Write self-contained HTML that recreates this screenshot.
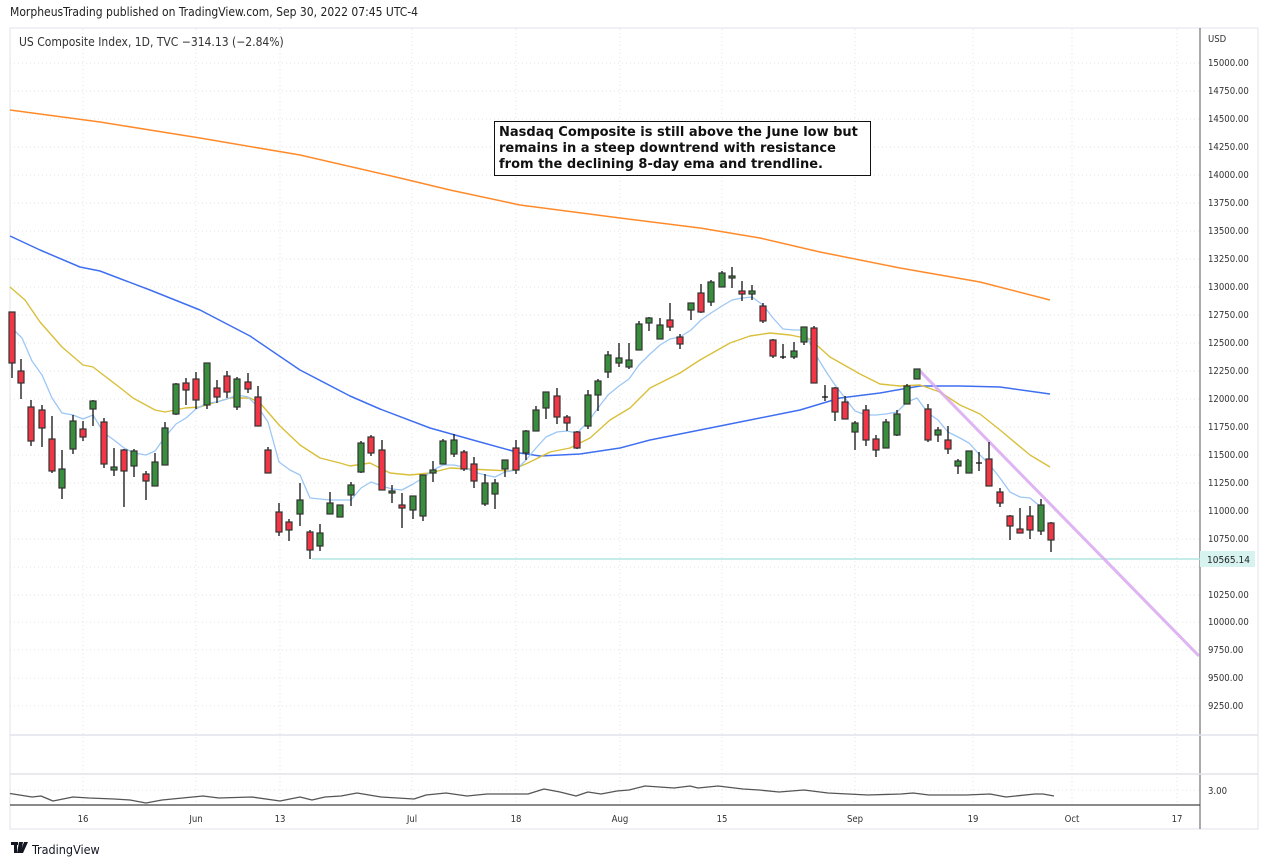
<!DOCTYPE html>
<html><head><meta charset="utf-8"><style>
html,body{margin:0;padding:0;background:#fff;}
body{width:1269px;height:866px;overflow:hidden;font-family:"Liberation Sans","DejaVu Sans",sans-serif;}
svg{display:block}
.r{fill:#f23645;stroke:#333;stroke-width:1.2}
.g{fill:#388e3c;stroke:#333;stroke-width:1.2}
.w line{stroke:#111;stroke-width:1.3}
.pl{font-size:9.5px;fill:#333;font-family:"DejaVu Sans Condensed","DejaVu Sans",sans-serif}
.xl{font-size:9.5px;fill:#333;font-family:"DejaVu Sans Condensed","DejaVu Sans",sans-serif;text-anchor:middle}
</style></head><body>
<svg width="1269" height="866" viewBox="0 0 1269 866" xmlns="http://www.w3.org/2000/svg">
<text x="10" y="16" style="font-size:12px;fill:#222;font-family:'DejaVu Sans Condensed','DejaVu Sans',sans-serif">MorpheusTrading published on TradingView.com, Sep 30, 2022 07:45 UTC-4</text>
<rect x="10" y="28" width="1248" height="801" fill="#fff" stroke="#e0e3eb"/>
<g stroke="#e3e3e3" stroke-dasharray="1,3">
<line x1="83" y1="29" x2="83" y2="805"/><line x1="196" y1="29" x2="196" y2="805"/><line x1="280" y1="29" x2="280" y2="805"/><line x1="412" y1="29" x2="412" y2="805"/><line x1="516" y1="29" x2="516" y2="805"/><line x1="620" y1="29" x2="620" y2="805"/><line x1="722" y1="29" x2="722" y2="805"/><line x1="855" y1="29" x2="855" y2="805"/><line x1="973" y1="29" x2="973" y2="805"/><line x1="1072" y1="29" x2="1072" y2="805"/><line x1="1177" y1="29" x2="1177" y2="805"/>
<line x1="10" y1="63" x2="1200" y2="63"/><line x1="10" y1="91" x2="1200" y2="91"/><line x1="10" y1="119" x2="1200" y2="119"/><line x1="10" y1="147" x2="1200" y2="147"/><line x1="10" y1="175" x2="1200" y2="175"/><line x1="10" y1="203" x2="1200" y2="203"/><line x1="10" y1="231" x2="1200" y2="231"/><line x1="10" y1="259" x2="1200" y2="259"/><line x1="10" y1="287" x2="1200" y2="287"/><line x1="10" y1="315" x2="1200" y2="315"/><line x1="10" y1="343" x2="1200" y2="343"/><line x1="10" y1="371" x2="1200" y2="371"/><line x1="10" y1="399" x2="1200" y2="399"/><line x1="10" y1="427" x2="1200" y2="427"/><line x1="10" y1="455" x2="1200" y2="455"/><line x1="10" y1="483" x2="1200" y2="483"/><line x1="10" y1="511" x2="1200" y2="511"/><line x1="10" y1="539" x2="1200" y2="539"/><line x1="10" y1="567" x2="1200" y2="567"/><line x1="10" y1="595" x2="1200" y2="595"/><line x1="10" y1="622" x2="1200" y2="622"/><line x1="10" y1="650" x2="1200" y2="650"/><line x1="10" y1="678" x2="1200" y2="678"/><line x1="10" y1="706" x2="1200" y2="706"/>
<line x1="10" y1="790" x2="1200" y2="790"/>
</g>
<line x1="1200" y1="28" x2="1200" y2="829" stroke="#555" stroke-width="1"/>
<line x1="10" y1="735" x2="1258" y2="735" stroke="#e0e3eb" stroke-width="1.5"/>
<line x1="10" y1="774" x2="1258" y2="774" stroke="#e0e3eb" stroke-width="1.5"/>
<line x1="10" y1="805" x2="1200" y2="805" stroke="#444" stroke-width="1.2"/>
<text x="19" y="46" style="font-size:12px;fill:#333;font-family:'DejaVu Sans Condensed','DejaVu Sans',sans-serif">US Composite Index, 1D, TVC  −314.13 (−2.84%)</text>
<g>
<text class="pl" x="1208" y="42">USD</text>
<text class="pl" x="1208" y="66">15000.00</text><text class="pl" x="1208" y="94">14750.00</text><text class="pl" x="1208" y="122">14500.00</text><text class="pl" x="1208" y="150">14250.00</text><text class="pl" x="1208" y="178">14000.00</text><text class="pl" x="1208" y="206">13750.00</text><text class="pl" x="1208" y="234">13500.00</text><text class="pl" x="1208" y="262">13250.00</text><text class="pl" x="1208" y="290">13000.00</text><text class="pl" x="1208" y="318">12750.00</text><text class="pl" x="1208" y="346">12500.00</text><text class="pl" x="1208" y="374">12250.00</text><text class="pl" x="1208" y="402">12000.00</text><text class="pl" x="1208" y="430">11750.00</text><text class="pl" x="1208" y="458">11500.00</text><text class="pl" x="1208" y="486">11250.00</text><text class="pl" x="1208" y="514">11000.00</text><text class="pl" x="1208" y="542">10750.00</text><text class="pl" x="1208" y="598">10250.00</text><text class="pl" x="1208" y="625">10000.00</text><text class="pl" x="1208" y="653">9750.00</text><text class="pl" x="1208" y="681">9500.00</text><text class="pl" x="1208" y="709">9250.00</text>
<text class="pl" x="1208" y="794">3.00</text>
</g>
<g>
<text class="xl" x="83" y="822">16</text><text class="xl" x="196" y="822">Jun</text><text class="xl" x="280" y="822">13</text><text class="xl" x="412" y="822">Jul</text><text class="xl" x="516" y="822">18</text><text class="xl" x="620" y="822">Aug</text><text class="xl" x="722" y="822">15</text><text class="xl" x="855" y="822">Sep</text><text class="xl" x="973" y="822">19</text><text class="xl" x="1072" y="822">Oct</text><text class="xl" x="1177" y="822">17</text>
</g>
<line x1="312" y1="559" x2="1200" y2="559" stroke="#b2e5e0" stroke-width="1.5"/>
<rect x="1200" y="551" width="55" height="16" fill="#d6f3f0"/>
<text x="1207" y="563" style="font-size:10px;fill:#222;font-family:'DejaVu Sans Condensed','DejaVu Sans',sans-serif">10565.14</text>
<g fill="none" stroke-linejoin="round">
<polyline stroke="#ff8a2a" stroke-width="1.5" points="10,110 100,122 200,138 300,155 400,178 450,190 520,205 620,218 700,228 760,238 820,252 900,268 980,282 1050,300"/>
<polyline stroke="#3f6ff0" stroke-width="1.5" points="10,236 40,250 80,267 100,271 150,290 200,310 250,336 300,370 350,396 380,409 430,428 480,442 520,453 540,456 580,454 620,448 650,440 700,430 750,420 800,410 840,398 880,393 920,386 960,386 1000,387 1050,394"/>
<polyline stroke="#d9bf3a" stroke-width="1.4" points="10,287 25,300 40,322 62,347 83,365 93,367 123,390 133,398 155,410 165,412 185,408 200,407 230,398 250,398 260,403 280,426 300,445 320,458 340,463 350,466 370,463 390,473 410,475 430,473 450,468 470,469 490,470 510,471 530,462 550,452 570,448 590,438 610,420 630,408 650,388 680,373 700,360 730,343 750,336 770,333 790,335 810,339 830,357 860,374 880,384 900,386 920,385 940,392 960,405 980,414 1000,430 1030,455 1050,467"/>
<polyline stroke="#9cc7f5" stroke-width="1.3" points="12,328 22,338 32,361 42,375 52,398 62,413 73,415 83,419 93,415 104,433 114,440 124,448 134,453 146,455 155,451 165,437 176,424 186,418 196,409 207,403 217,402 227,399 237,395 248,397 258,407 268,422 279,462 290,470 300,475 310,498 320,499 330,500 340,500 351,500 361,488 371,482 382,486 392,489 402,490 413,484 423,478 433,470 443,465 454,465 464,467 474,472 485,475 495,477 505,472 516,470 526,460 536,448 546,437 557,432 567,431 577,433 588,422 598,408 608,395 619,386 629,379 639,365 649,355 660,345 670,339 680,337 691,330 701,320 711,313 722,306 732,300 742,298 752,297 763,305 773,318 783,329 794,330 804,330 814,352 825,370 835,385 845,398 855,411 866,415 876,415 886,414 897,412 907,402 917,398 928,413 938,420 948,432 958,437 969,443 979,454 989,464 1000,478 1010,492 1020,497 1030,498 1041,507"/>
<line x1="918" y1="369" x2="1199" y2="656" stroke="#d8a8f0" stroke-width="3" stroke-opacity="0.85"/>
<polyline stroke="#555" stroke-width="1.3" points="10,793.5 32,797 41,796 53,801 73,797 89,798 114,799 130,800 146,803 162,800 203,796 219,798 252,797 280,801 300,797 312,800 325,797 341,796 357,793 381,797 414,799 426,795 446,793 467,796 487,794 528,794 544,789 560,792 576,796 588,792 601,794 617,791 629,790 645,786 674,788 690,786 698,788 718,786 743,789 759,790 779,792 804,790 828,793 868,795 901,794 913,793 929,795 966,795 990,794 1006,797 1035,794 1043,794 1054,796"/>
</g>
<g class="w">
<line x1="12" y1="312" x2="12" y2="378"/><line x1="21" y1="359" x2="21" y2="399"/><line x1="31" y1="400" x2="31" y2="446"/><line x1="42" y1="405" x2="42" y2="447"/><line x1="52" y1="416" x2="52" y2="473"/><line x1="62" y1="450" x2="62" y2="499"/><line x1="73" y1="415" x2="73" y2="454"/><line x1="83" y1="421" x2="83" y2="441"/><line x1="93" y1="400" x2="93" y2="426"/><line x1="104" y1="418" x2="104" y2="468"/><line x1="114" y1="448" x2="114" y2="476"/><line x1="124" y1="449" x2="124" y2="507"/><line x1="134" y1="449" x2="134" y2="477"/><line x1="146" y1="471" x2="146" y2="500"/><line x1="155" y1="453" x2="155" y2="486"/><line x1="165" y1="422" x2="165" y2="465"/><line x1="176" y1="383" x2="176" y2="415"/><line x1="186" y1="378" x2="186" y2="405"/><line x1="196" y1="372" x2="196" y2="409"/><line x1="207" y1="363" x2="207" y2="409"/><line x1="217" y1="380" x2="217" y2="403"/><line x1="227" y1="371" x2="227" y2="398"/><line x1="237" y1="377" x2="237" y2="410"/><line x1="248" y1="373" x2="248" y2="393"/><line x1="258" y1="386" x2="258" y2="426"/><line x1="268" y1="447" x2="268" y2="473"/><line x1="279" y1="503" x2="279" y2="536"/><line x1="289" y1="519" x2="289" y2="541"/><line x1="300" y1="483" x2="300" y2="526"/><line x1="310" y1="530" x2="310" y2="559"/><line x1="320" y1="524" x2="320" y2="551"/><line x1="330" y1="492" x2="330" y2="514"/><line x1="340" y1="505" x2="340" y2="517"/><line x1="351" y1="482" x2="351" y2="506"/><line x1="361" y1="441" x2="361" y2="473"/><line x1="371" y1="435" x2="371" y2="456"/><line x1="382" y1="440" x2="382" y2="490"/><line x1="392" y1="485" x2="392" y2="503"/><line x1="402" y1="493" x2="402" y2="528"/><line x1="413" y1="496" x2="413" y2="519"/><line x1="423" y1="475" x2="423" y2="521"/><line x1="433" y1="461" x2="433" y2="482"/><line x1="443" y1="439" x2="443" y2="464"/><line x1="454" y1="434" x2="454" y2="457"/><line x1="464" y1="450" x2="464" y2="471"/><line x1="474" y1="457" x2="474" y2="488"/><line x1="485" y1="474" x2="485" y2="506"/><line x1="495" y1="479" x2="495" y2="509"/><line x1="505" y1="460" x2="505" y2="477"/><line x1="516" y1="440" x2="516" y2="474"/><line x1="526" y1="430" x2="526" y2="460"/><line x1="536" y1="406" x2="536" y2="431"/><line x1="546" y1="392" x2="546" y2="419"/><line x1="557" y1="388" x2="557" y2="424"/><line x1="567" y1="415" x2="567" y2="431"/><line x1="577" y1="431" x2="577" y2="449"/><line x1="588" y1="390" x2="588" y2="429"/><line x1="598" y1="379" x2="598" y2="411"/><line x1="608" y1="351" x2="608" y2="378"/><line x1="619" y1="343" x2="619" y2="367"/><line x1="629" y1="343" x2="629" y2="369"/><line x1="639" y1="321" x2="639" y2="350"/><line x1="649" y1="317" x2="649" y2="331"/><line x1="660" y1="318" x2="660" y2="339"/><line x1="670" y1="303" x2="670" y2="331"/><line x1="680" y1="334" x2="680" y2="349"/><line x1="691" y1="303" x2="691" y2="320"/><line x1="701" y1="284" x2="701" y2="313"/><line x1="711" y1="280" x2="711" y2="306"/><line x1="722" y1="271" x2="722" y2="287"/><line x1="732" y1="267" x2="732" y2="288"/><line x1="742" y1="281" x2="742" y2="301"/><line x1="752" y1="285" x2="752" y2="300"/><line x1="763" y1="303" x2="763" y2="323"/><line x1="773" y1="339" x2="773" y2="358"/><line x1="783" y1="344" x2="783" y2="359"/><line x1="794" y1="342" x2="794" y2="359"/><line x1="804" y1="327" x2="804" y2="345"/><line x1="814" y1="326" x2="814" y2="383"/><line x1="825" y1="385" x2="825" y2="401"/><line x1="835" y1="387" x2="835" y2="421"/><line x1="845" y1="396" x2="845" y2="419"/><line x1="855" y1="421" x2="855" y2="450"/><line x1="866" y1="405" x2="866" y2="446"/><line x1="876" y1="435" x2="876" y2="457"/><line x1="886" y1="419" x2="886" y2="448"/><line x1="897" y1="410" x2="897" y2="436"/><line x1="907" y1="384" x2="907" y2="404"/><line x1="928" y1="404" x2="928" y2="442"/><line x1="938" y1="427" x2="938" y2="442"/><line x1="948" y1="426" x2="948" y2="454"/><line x1="958" y1="459" x2="958" y2="474"/><line x1="969" y1="451" x2="969" y2="473"/><line x1="979" y1="452" x2="979" y2="471"/><line x1="989" y1="442" x2="989" y2="486"/><line x1="1000" y1="488" x2="1000" y2="507"/><line x1="1010" y1="515" x2="1010" y2="540"/><line x1="1020" y1="508" x2="1020" y2="533"/><line x1="1030" y1="506" x2="1030" y2="539"/><line x1="1041" y1="499" x2="1041" y2="535"/><line x1="1051" y1="522" x2="1051" y2="552"/>
<line x1="822" y1="397" x2="828" y2="397"/><line x1="780" y1="357" x2="786" y2="357"/><line x1="976" y1="463" x2="982" y2="463"/>
</g>
<g>
<rect class="r" x="9" y="312" width="6" height="51"/><rect class="r" x="18" y="371" width="6" height="12"/><rect class="r" x="28" y="407" width="6" height="34"/><rect class="r" x="39" y="410" width="6" height="18"/><rect class="r" x="49" y="439" width="6" height="32"/><rect class="g" x="59" y="469" width="6" height="19"/><rect class="g" x="70" y="421" width="6" height="28"/><rect class="r" x="80" y="429" width="6" height="8"/><rect class="g" x="90" y="401" width="6" height="8"/><rect class="r" x="101" y="422" width="6" height="42"/><rect class="g" x="111" y="467" width="6" height="3"/><rect class="r" x="121" y="450" width="6" height="21"/><rect class="g" x="131" y="451" width="6" height="15"/><rect class="r" x="143" y="474" width="6" height="7"/><rect class="g" x="152" y="462" width="6" height="24"/><rect class="g" x="162" y="428" width="6" height="37"/><rect class="g" x="173" y="384" width="6" height="30"/><rect class="r" x="183" y="383" width="6" height="7"/><rect class="r" x="193" y="379" width="6" height="21"/><rect class="g" x="204" y="363" width="6" height="42"/><rect class="r" x="214" y="388" width="6" height="9"/><rect class="r" x="224" y="376" width="6" height="16"/><rect class="g" x="234" y="379" width="6" height="28"/><rect class="r" x="245" y="382" width="6" height="7"/><rect class="r" x="255" y="397" width="6" height="29"/><rect class="r" x="265" y="450" width="6" height="23"/><rect class="r" x="276" y="512" width="6" height="20"/><rect class="r" x="286" y="522" width="6" height="8"/><rect class="g" x="297" y="500" width="6" height="14"/><rect class="r" x="307" y="532" width="6" height="18"/><rect class="g" x="317" y="533" width="6" height="13"/><rect class="g" x="327" y="503" width="6" height="11"/><rect class="g" x="337" y="505" width="6" height="12"/><rect class="g" x="348" y="485" width="6" height="10"/><rect class="g" x="358" y="443" width="6" height="29"/><rect class="r" x="368" y="437" width="6" height="16"/><rect class="r" x="379" y="450" width="6" height="40"/><rect class="g" x="389" y="491" width="6" height="2"/><rect class="r" x="399" y="505" width="6" height="3"/><rect class="g" x="410" y="496" width="6" height="14"/><rect class="g" x="420" y="475" width="6" height="41"/><rect class="g" x="430" y="470" width="6" height="3"/><rect class="g" x="440" y="441" width="6" height="23"/><rect class="g" x="451" y="440" width="6" height="14"/><rect class="r" x="461" y="452" width="6" height="17"/><rect class="r" x="471" y="464" width="6" height="17"/><rect class="g" x="482" y="483" width="6" height="21"/><rect class="g" x="492" y="483" width="6" height="11"/><rect class="g" x="502" y="460" width="6" height="9"/><rect class="r" x="513" y="448" width="6" height="22"/><rect class="g" x="523" y="431" width="6" height="22"/><rect class="g" x="533" y="410" width="6" height="21"/><rect class="g" x="543" y="392" width="6" height="16"/><rect class="r" x="554" y="396" width="6" height="21"/><rect class="r" x="564" y="417" width="6" height="6"/><rect class="r" x="574" y="432" width="6" height="16"/><rect class="g" x="585" y="395" width="6" height="31"/><rect class="g" x="595" y="381" width="6" height="14"/><rect class="g" x="605" y="355" width="6" height="17"/><rect class="g" x="616" y="358" width="6" height="5"/><rect class="g" x="626" y="360" width="6" height="7"/><rect class="g" x="636" y="324" width="6" height="26"/><rect class="g" x="646" y="318" width="6" height="5"/><rect class="g" x="657" y="325" width="6" height="14"/><rect class="r" x="667" y="320" width="6" height="7"/><rect class="r" x="677" y="337" width="6" height="7"/><rect class="g" x="688" y="303" width="6" height="7"/><rect class="r" x="698" y="293" width="6" height="19"/><rect class="g" x="708" y="282" width="6" height="20"/><rect class="g" x="719" y="273" width="6" height="14"/><rect class="g" x="729" y="276" width="6" height="2"/><rect class="r" x="739" y="291" width="6" height="3"/><rect class="g" x="749" y="291" width="6" height="3"/><rect class="r" x="760" y="306" width="6" height="15"/><rect class="r" x="770" y="340" width="6" height="16"/><rect class="g" x="791" y="351" width="6" height="6"/><rect class="g" x="801" y="327" width="6" height="15"/><rect class="r" x="811" y="328" width="6" height="55"/><rect class="r" x="832" y="388" width="6" height="24"/><rect class="r" x="842" y="402" width="6" height="17"/><rect class="g" x="852" y="423" width="6" height="9"/><rect class="r" x="863" y="410" width="6" height="30"/><rect class="r" x="873" y="439" width="6" height="11"/><rect class="g" x="883" y="422" width="6" height="26"/><rect class="g" x="894" y="414" width="6" height="21"/><rect class="g" x="904" y="386" width="6" height="18"/><rect class="g" x="914" y="369" width="6" height="10"/><rect class="r" x="925" y="409" width="6" height="31"/><rect class="g" x="935" y="430" width="6" height="5"/><rect class="r" x="945" y="440" width="6" height="9"/><rect class="g" x="955" y="461" width="6" height="5"/><rect class="g" x="966" y="451" width="6" height="22"/><rect class="r" x="986" y="459" width="6" height="27"/><rect class="r" x="997" y="492" width="6" height="11"/><rect class="r" x="1007" y="516" width="6" height="10"/><rect class="r" x="1017" y="529" width="6" height="4"/><rect class="r" x="1027" y="516" width="6" height="14"/><rect class="g" x="1038" y="505" width="6" height="26"/><rect class="r" x="1048" y="523" width="6" height="17"/>
</g>
<rect x="494.5" y="121.5" width="376" height="54" fill="#fff" stroke="#111" stroke-width="1"/>
<g style="font-size:13px;font-weight:bold;fill:#111;font-family:'DejaVu Sans',sans-serif">
<text x="499" y="136">Nasdaq Composite is still above the June low but</text>
<text x="499" y="152">remains in a steep downtrend with resistance</text>
<text x="499" y="168">from the declining 8-day ema and trendline.</text>
</g>
<g fill="#131722">
<rect x="11" y="842" width="7" height="3"/><rect x="14" y="842" width="3" height="11"/>
<polygon points="19,842 23,842 21,853 17,853"/><polygon points="24,842 28,842 23,853 20,853"/>
</g>
<text x="32" y="854" style="font-size:12.5px;fill:#131722;font-family:'DejaVu Sans Condensed','DejaVu Sans',sans-serif">TradingView</text>
</svg>
</body></html>
